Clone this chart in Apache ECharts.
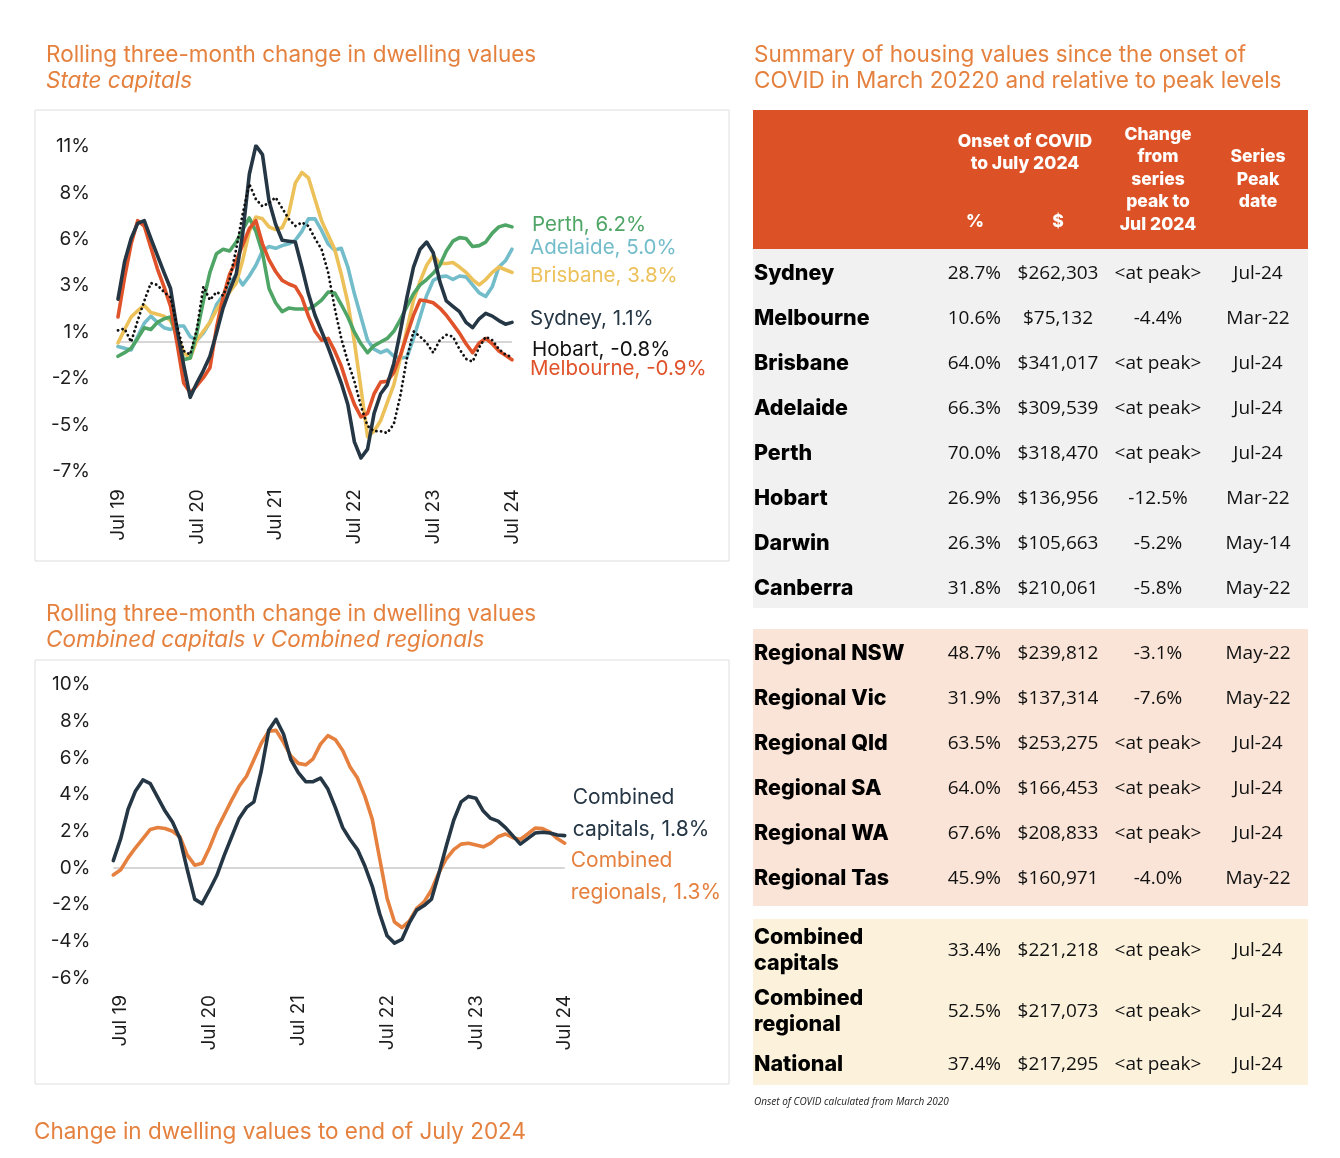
<!DOCTYPE html>
<html><head><meta charset="utf-8">
<script src="https://cdn.jsdelivr.net/npm/echarts@6/dist/echarts.min.js"></script>
<style>html,body{margin:0;padding:0;background:#fff}#c{width:1340px;height:1158px}</style>
</head><body><div id="c"></div>
<script>
// ---------- DATA ----------
const MONTH_NAMES = ['Jan','Feb','Mar','Apr','May','Jun','Jul','Aug','Sep','Oct','Nov','Dec'];
function monthLabels(year, monthIdx, count) {
  const out = [];
  for (let k = 0; k < count; k++) {
    const m = (monthIdx + k) % 12, y = year + Math.floor((monthIdx + k) / 12);
    out.push(MONTH_NAMES[m] + ' ' + String(y).slice(2));
  }
  return out;
}
const topMonths = monthLabels(2019, 6, 61);      // Jul 19 .. Jul 24
const bottomMonths = monthLabels(2019, 5, 62);   // Jun 19 .. Jul 24

const topTickValues = [-7.24, -4.64, -2.04, 0.56, 3.16, 5.76, 8.36, 10.96];
const topTickLabels = ['-7%', '-5%', '-2%', '1%', '3%', '6%', '8%', '11%'];

const sydney = [2.4,4.5,5.8,6.65,6.8,5.8,4.85,3.9,3.0,0.7, -1.3,-3.1,-2.3,-1.6,-0.8,0.5,1.9,2.9,3.8,6.1, 9.4,11.0,10.5,7.9,6.6,5.7,5.65,5.6,4.2,2.7, 1.5,0.6,-0.3,-1.3,-2.3,-3.5,-5.6,-6.5,-6.0,-4.0, -2.9,-2.4,-1.2,0.6,2.5,4.2,5.2,5.6,5.0,3.4, 2.3,2.0,1.7,1.1,0.8,1.3,1.6,1.45,1.2,1.0, 1.1];
const melbourne = [1.4,3.6,5.5,6.8,6.5,5.3,4.1,3.1,2.0,-0.1, -2.3,-2.85,-2.45,-2.0,-1.45,0.8,2.5,3.8,4.55,5.45, 6.35,6.8,5.5,4.6,3.95,3.45,3.25,3.1,2.5,1.45, 0.6,0.1,0.2,-0.5,-1.35,-2.5,-3.5,-4.2,-4.0,-2.9, -2.25,-2.2,-1.7,-0.75,0.4,1.5,2.35,2.3,2.2,1.9, 1.5,1.0,0.5,-0.1,-0.6,-0.05,0.2,-0.1,-0.5,-0.75, -1.0];
const brisbane = [-0.05,0.7,1.4,1.75,2.05,1.65,1.55,1.45,1.2,0.4, -0.6,-0.9,0.1,0.6,1.1,1.8,2.35,2.8,3.3,4.6, 6.2,7.0,6.9,6.45,6.3,6.4,7.2,8.9,9.5,9.2, 8.0,6.8,6.0,5.2,3.8,2.2,0.0,-2.6,-5.3,-5.0, -4.4,-3.4,-2.4,-0.9,0.7,2.35,3.4,4.3,4.85,4.4, 4.4,4.45,4.2,3.9,3.5,3.2,3.5,3.9,4.2,4.05, 3.9];
const adelaide = [-0.25,-0.35,-0.45,0.3,1.05,1.45,1.1,0.8,0.7,0.9, 0.9,0.3,0.1,0.5,1.1,2.1,2.6,3.3,3.75,3.2, 3.7,4.3,5.1,5.35,5.25,5.4,5.5,5.7,6.2,6.9, 6.9,6.25,5.5,5.15,5.25,4.2,2.7,1.4,0.1,-0.4, -0.6,-0.45,-0.8,-0.9,-0.85,0.2,1.4,2.6,3.45,3.65, 3.7,3.5,3.7,3.65,3.2,2.75,2.55,3.1,4.2,4.55, 5.2];
const perth = [-0.8,-0.6,-0.35,0.2,0.8,0.7,1.1,1.3,1.4,0.2, -1.0,-0.9,0.5,2.3,3.9,4.95,5.2,5.1,5.6,6.3, 6.95,6.2,5.0,3.0,2.2,1.7,1.9,1.85,1.85,1.85, 2.05,2.35,2.8,2.75,2.1,1.4,0.55,-0.1,-0.6,-0.2, 0.0,0.2,0.6,1.25,2.0,2.7,3.2,3.5,3.85,4.3, 5.1,5.65,5.85,5.8,5.35,5.4,5.6,6.1,6.45,6.55, 6.45];
const hobart = [0.65,0.75,0.0,1.2,2.3,3.3,3.2,2.8,2.5,0.9, -0.5,-0.7,0.7,3.1,2.35,2.8,2.6,3.5,5.2,7.2, 8.85,8.0,7.6,7.8,8.1,7.5,6.9,6.5,6.7,6.5, 5.8,5.2,3.9,1.9,0.2,-1.1,-2.2,-3.6,-4.7,-5.0, -5.0,-5.1,-4.6,-3.0,-0.9,0.6,0.3,-0.05,-0.6,0.1, 0.4,0.3,-0.4,-0.95,-1.1,-0.3,0.3,0.1,-0.4,-0.7, -0.85];

const topSeriesNames = ['Adelaide','Brisbane','Perth','Melbourne','Sydney','Hobart'];
const topSeriesLabels = ['Adelaide, 5.0%','Brisbane, 3.8%','Perth, 6.2%','Melbourne, -0.9%','Sydney, 1.1%','Hobart, -0.8%'];

const combinedCapitals = [0.4,1.6,3.2,4.2,4.8,4.6,3.85,3.1,2.5,1.6, -0.1,-1.7,-1.95,-1.2,-0.4,0.7,1.7,2.7,3.3,3.6, 5.3,7.5,8.1,7.3,5.9,5.2,4.7,4.7,4.9,4.3, 3.3,2.2,1.55,1.0,0.1,-1.0,-2.5,-3.7,-4.1,-3.9, -3.0,-2.3,-2.05,-1.7,-0.3,1.2,2.6,3.6,3.9,3.8, 3.1,2.7,2.55,2.2,1.75,1.3,1.6,1.9,1.95,1.9, 1.8,1.76];
const combinedRegionals = [-0.38,-0.1,0.55,1.1,1.6,2.1,2.2,2.15,2.0,1.7, 0.7,0.15,0.25,1.1,2.1,2.9,3.7,4.45,5.0,5.9, 6.8,7.45,7.5,6.85,6.1,5.7,5.62,5.95,6.75,7.21, 7.0,6.4,5.5,4.9,3.9,2.65,0.5,-1.65,-2.95,-3.25, -2.9,-2.2,-1.85,-1.2,-0.25,0.5,1.0,1.3,1.35,1.25, 1.15,1.35,1.7,1.85,1.65,1.55,1.85,2.17,2.15,1.95, 1.6,1.35];
const bottomSeriesLabels = ['Combined\ncapitals, 1.8%', 'Combined\nregionals, 1.3%'];

// table
const stateNames = ['Sydney','Melbourne','Brisbane','Adelaide','Perth','Hobart','Darwin','Canberra'];
const statePct = ['28.7%','10.6%','64.0%','66.3%','70.0%','26.9%','26.3%','31.8%'];
const stateDollar = ['$262,303','$75,132','$341,017','$309,539','$318,470','$136,956','$105,663','$210,061'];
const stateChange = ['<at peak>','-4.4%','<at peak>','<at peak>','<at peak>','-12.5%','-5.2%','-5.8%'];
const statePeak = ['Jul-24','Mar-22','Jul-24','Jul-24','Jul-24','Mar-22','May-14','May-22'];

const regionNames = ['Regional NSW','Regional Vic','Regional Qld','Regional SA','Regional WA','Regional Tas'];
const regionPct = ['48.7%','31.9%','63.5%','64.0%','67.6%','45.9%'];
const regionDollar = ['$239,812','$137,314','$253,275','$166,453','$208,833','$160,971'];
const regionChange = ['-3.1%','-7.6%','<at peak>','<at peak>','<at peak>','-4.0%'];
const regionPeak = ['May-22','May-22','Jul-24','Jul-24','Jul-24','May-22'];

const aggNames = ['Combined\ncapitals','Combined\nregional','National'];
const aggPct = ['33.4%','52.5%','37.4%'];
const aggDollar = ['$221,218','$217,073','$217,295'];
const aggChange = ['<at peak>','<at peak>','<at peak>'];
const aggPeak = ['Jul-24','Jul-24','Jul-24'];

// ---------- STYLE ----------
const FONT = 'Inter, "Noto Sans", sans-serif';
const NUMFONT = '"Open Sans", "Noto Sans", sans-serif';
const ORANGE_TITLE = '#E5813E';
const colors = {
  Sydney:'#253645', Melbourne:'#E0532A', Brisbane:'#EDC15A', Adelaide:'#73BDCB', Perth:'#4FA566', Hobart:'#111111'
};
const topData = {Sydney:sydney, Melbourne:melbourne, Brisbane:brisbane, Adelaide:adelaide, Perth:perth, Hobart:hobart};
const labelOffsets = {Adelaide:[0,-1], Brisbane:[0,3], Perth:[2,-2], Melbourne:[0,9], Sydney:[0,-4], Hobart:[2,-7]};

const series = [];
topSeriesNames.forEach((name, k) => {
  const s = {
    name, type:'line', xAxisIndex:0, yAxisIndex:0, data: topData[name],
    symbol:'none', smooth:false, z: 3 + k,
    lineStyle: name === 'Hobart'
      ? {color: colors[name], width: 2.8, type: [0.1, 4.6], cap:'round'}
      : {color: colors[name], width: 3.6, cap:'round', join:'round'},
    endLabel: {show:true, formatter: topSeriesLabels[k], color: colors[name], fontFamily: FONT,
      fontSize: 20.5, distance: 18, offset: labelOffsets[name]}
  };
  if (k === 0) {
    s.markLine = {silent:true, symbol:['none','none'], z:1,
      lineStyle:{color:'#d6d6d6', width:2, type:'solid'}, label:{show:false}, data:[{yAxis:0}]};
  }
  series.push(s);
});
series.push({
  name:'Combined regionals', type:'line', xAxisIndex:1, yAxisIndex:1, data: combinedRegionals,
  symbol:'none', z:3, lineStyle:{color:'#E5803F', width:3.6, cap:'round', join:'round'},
  endLabel:{show:true, formatter: bottomSeriesLabels[1], color:'#E5803F', fontFamily:FONT, fontSize:21,
    lineHeight:32, distance:6, offset:[0,34]},
  markLine:{silent:true, symbol:['none','none'], z:1, lineStyle:{color:'#d6d6d6', width:2, type:'solid'},
    label:{show:false}, data:[{yAxis:0}]}
});
series.push({
  name:'Combined capitals', type:'line', xAxisIndex:1, yAxisIndex:1, data: combinedCapitals,
  symbol:'none', z:4, lineStyle:{color:'#253645', width:3.6, cap:'round', join:'round'},
  endLabel:{show:true, formatter: bottomSeriesLabels[0], color:'#253645', fontFamily:FONT, fontSize:21,
    lineHeight:32, distance:8, offset:[0,-22]}
});

// ---------- GRAPHIC (titles, boxes, table) ----------
const g = [];
function txt(x, y, text, o) {
  o = o || {};
  g.push({type:'text', x, y, z: 10, silent:true, style:{
    text, fill: o.fill || '#111', font: o.font || ('20px ' + FONT),
    textAlign: o.align || 'left', align: o.align || 'left',
    textVerticalAlign: 'middle', verticalAlign: 'middle', lineHeight: o.lineHeight || undefined
  }});
}
function rect(x, y, w, h, fill, stroke) {
  g.push({type:'rect', z: 0, silent:true, shape:{x, y, width:w, height:h},
    style:{fill: fill || 'none', stroke: stroke || null, lineWidth: stroke ? 1 : 0}});
}
// chart boxes
rect(35, 110, 694, 451, '#fff', '#dedede');
rect(35, 660, 694, 424, '#fff', '#dedede');
// chart titles
const titleFont = '22.5px ' + FONT, titleItalic = 'italic 22.5px ' + FONT;
txt(46, 55, 'Rolling three-month change in dwelling values', {fill:ORANGE_TITLE, font:titleFont});
txt(46, 81, 'State capitals', {fill:ORANGE_TITLE, font:titleItalic});
txt(46, 614, 'Rolling three-month change in dwelling values', {fill:ORANGE_TITLE, font:titleFont});
txt(46, 640, 'Combined capitals v Combined regionals', {fill:ORANGE_TITLE, font:titleItalic});
txt(34, 1132, 'Change in dwelling values to end of July 2024', {fill:ORANGE_TITLE, font:titleFont});
txt(754, 55, 'Summary of housing values since the onset of', {fill:ORANGE_TITLE, font:titleFont});
txt(754, 81, 'COVID in March 20220 and relative to peak levels', {fill:ORANGE_TITLE, font:titleFont});

// table
const TX = 753, TW = 555;
const COL_PCT = 1001, COL_DOL = 1058, COL_CHG = 1158, COL_PEAK = 1258;
rect(TX, 110, TW, 139, '#DC5226');
const hf = '800 17.5px ' + FONT;
txt(1025, 153, 'Onset of COVID\nto July 2024', {fill:'#fff', font:hf, align:'center', lineHeight:22});
txt(975, 222, '%', {fill:'#fff', font:hf, align:'center'});
txt(COL_DOL, 222, '$', {fill:'#fff', font:hf, align:'center'});
txt(COL_CHG, 179.5, 'Change\nfrom\nseries\npeak to\nJul 2024', {fill:'#fff', font:hf, align:'center', lineHeight:22.4});
txt(COL_PEAK, 179.5, 'Series\nPeak\ndate', {fill:'#fff', font:hf, align:'center', lineHeight:22.4});

rect(TX, 249, TW, 359, '#F1F1F1');
rect(TX, 629, TW, 277, '#F9E4D7');
rect(TX, 919, TW, 166, '#FCF2DC');

const nameFont = '800 21.5px ' + FONT;
const valFont = '19px ' + NUMFONT;
function row(y, name, pct, dol, chg, peak) {
  txt(754, y, name, {font:nameFont, fill:'#000', lineHeight:26});
  txt(COL_PCT, y, pct, {font:valFont, fill:'#111', align:'right'});
  txt(COL_DOL, y, dol, {font:valFont, fill:'#111', align:'center'});
  txt(COL_CHG, y, chg, {font:valFont, fill:'#111', align:'center'});
  txt(COL_PEAK, y, peak, {font:valFont, fill:'#111', align:'center'});
}
stateNames.forEach((n, i) => row(274 + 45 * i, n, statePct[i], stateDollar[i], stateChange[i], statePeak[i]));
regionNames.forEach((n, i) => row(654 + 45 * i, n, regionPct[i], regionDollar[i], regionChange[i], regionPeak[i]));
const aggY = [951, 1012, 1065];
aggNames.forEach((n, i) => row(aggY[i], n, aggPct[i], aggDollar[i], aggChange[i], aggPeak[i]));
txt(754, 1102, 'Onset of COVID calculated from March 2020', {font:'italic 10px ' + NUMFONT, fill:'#222'});

// ---------- OPTION ----------
const axisLabelStyle = {color:'#1d1d1d', fontFamily:FONT, fontSize:19};
const option = {
  backgroundColor:'#fff',
  animation:false,
  graphic: g,
  grid: [
    {left:118, top:146.4, width:394, height:324.8, containLabel:false},
    {left:113.3, top:684.5, width:451.4, height:293.5, containLabel:false}
  ],
  xAxis: [
    {type:'category', gridIndex:0, data: topMonths, boundaryGap:false,
     axisLine:{show:false}, axisTick:{show:false}, splitLine:{show:false},
     axisLabel:Object.assign({rotate:90, margin:18, interval:(i, v) => v.startsWith('Jul')}, axisLabelStyle)},
    {type:'category', gridIndex:1, data: bottomMonths, boundaryGap:false,
     axisLine:{show:false}, axisTick:{show:false}, splitLine:{show:false},
     axisLabel:Object.assign({rotate:90, margin:17, interval:(i, v) => v.startsWith('Jul')}, axisLabelStyle)}
  ],
  yAxis: [
    {type:'value', gridIndex:0, min:topTickValues[0], max:topTickValues[topTickValues.length - 1],
     axisLine:{show:false}, axisTick:{show:false, customValues: topTickValues}, splitLine:{show:false},
     axisLabel:Object.assign({margin:28, customValues: topTickValues,
       formatter:(v) => { const k = topTickValues.findIndex(t => Math.abs(t - v) < 1e-6); return k >= 0 ? topTickLabels[k] : ''; }}, axisLabelStyle)},
    {type:'value', gridIndex:1, min:-6, max:10, interval:2,
     axisLine:{show:false}, axisTick:{show:false}, splitLine:{show:false},
     axisLabel:Object.assign({margin:23, formatter:'{value}%'}, axisLabelStyle)}
  ],
  series
};
const chart = echarts.init(document.getElementById('c'), null, {renderer:'canvas'});
chart.setOption(option);
</script>
</body></html>
